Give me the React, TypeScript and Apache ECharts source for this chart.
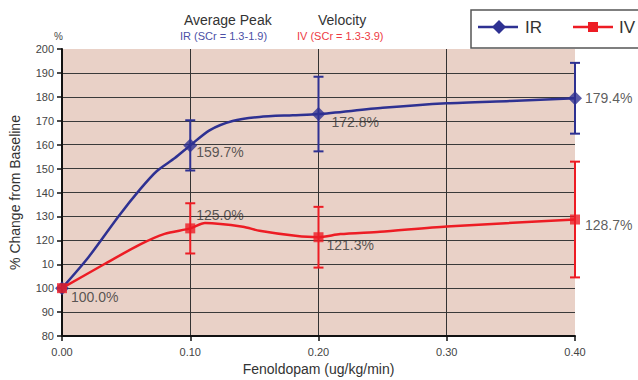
import React, { useEffect, useRef } from "react";
import * as echarts from "echarts";

// Smoothed curve points (dose in ug/kg/min, % of baseline)
const irCurveX = [0, 0.02, 0.044, 0.061, 0.074, 0.088, 0.1, 0.115, 0.133, 0.154, 0.18, 0.2, 0.25, 0.3, 0.35, 0.4];
const irCurveY = [100, 112.5, 130, 141.4, 149, 154.4, 159.7, 166, 169.9, 171.6, 172.3, 172.8, 175.4, 177.3, 178.3, 179.4];
const ivCurveX = [0, 0.0335, 0.061, 0.08, 0.1, 0.1115, 0.141, 0.154, 0.182, 0.2, 0.217, 0.248, 0.3, 0.4];
const ivCurveY = [100, 110.2, 118.3, 122.7, 125.0, 127.2, 125.7, 124.0, 121.9, 121.3, 122.6, 123.6, 125.8, 128.7];

// Measured points with error bars
const markerX = [0, 0.1, 0.2, 0.4];
const irMean = [100, 159.7, 172.8, 179.4];
const irErr = [0, 10.5, 15.6, 14.8];
const ivMean = [100, 125.0, 121.3, 128.7];
const ivErr = [0, 10.5, 12.7, 24.2];

const irLabels = ["", "159.7%", "172.8%", "179.4%"];
const ivLabels = ["100.0%", "125.0%", "121.3%", "128.7%"];
const irLabelOffsets = [[0, 0], [6, 7], [13, 8], [10, 0]];
const ivLabelOffsets = [[9, 9], [6, -13], [8, 8], [10, 5]];

const yTicks = [80, 90, 100, 110, 120, 130, 140, 150, 160, 170, 180, 190, 200];
const yTickLabels = ["80", "90", "100", "10", "120", "130", "140", "150", "160", "170", "180", "190", "200"];

const BLUE = "#2E3192";
const RED = "#ED1C24";
const FONT = "Liberation Sans, Arial, sans-serif";

export default function App() {
  const ref = useRef<HTMLDivElement>(null);
  useEffect(() => {
    if (!ref.current) return;
    const chart = echarts.init(ref.current, null, { renderer: "svg" });

    const errRender = (color: string) => (params: any, api: any) => {
      const x = api.value(0);
      const lo = api.value(1);
      const hi = api.value(2);
      if (hi - lo <= 0) return null;
      const top = api.coord([x, hi]);
      const bot = api.coord([x, lo]);
      const w = 5;
      const style = { stroke: color, lineWidth: 2 };
      return {
        type: "group",
        children: [
          { type: "line", shape: { x1: top[0], y1: top[1], x2: bot[0], y2: bot[1] }, style },
          { type: "line", shape: { x1: top[0] - w, y1: top[1], x2: top[0] + w, y2: top[1] }, style },
          { type: "line", shape: { x1: bot[0] - w, y1: bot[1], x2: bot[0] + w, y2: bot[1] }, style },
        ],
      };
    };

    const markerData = (means: number[], labels: string[], offs: number[][], size: number) =>
      markerX.map((x, i) => ({
        value: [x, means[i]],
        label: {
          show: labels[i] !== "",
          formatter: labels[i],
          position: [offs[i][0] + size / 2, offs[i][1] + size / 2],
          align: "left",
          verticalAlign: "middle",
          fontSize: 14,
          color: "#333",
          fontFamily: FONT,
        },
      }));

    chart.setOption({
      animation: false,
      grid: {
        left: 62,
        right: 63,
        top: 49,
        bottom: 44,
        show: true,
        backgroundColor: "#E9D1C7",
        borderWidth: 0,
        containLabel: false,
        outerBoundsMode: "none",
      },
      xAxis: {
        type: "value",
        min: 0,
        max: 0.4,
        interval: 0.1,
        name: "Fenoldopam (ug/kg/min)",
        nameLocation: "middle",
        nameGap: 24,
        nameTextStyle: { fontSize: 14, color: "#333", fontFamily: FONT },
        axisLine: { show: true, lineStyle: { color: "#111", width: 2 } },
        axisTick: { show: true, length: 5, lineStyle: { color: "#111", width: 1.5 } },
        axisLabel: {
          formatter: (v: number) => v.toFixed(2),
          fontSize: 11,
          color: "#444",
          margin: 10,
          fontFamily: FONT,
        },
        splitLine: { show: true, showMinLine: false, showMaxLine: false, lineStyle: { color: "#333", width: 1 } },
      },
      yAxis: {
        type: "value",
        min: 80,
        max: 200,
        interval: 10,
        name: "% Change from Baseline",
        nameLocation: "middle",
        nameGap: 40,
        nameTextStyle: { fontSize: 14, color: "#333", fontFamily: FONT },
        axisLine: { show: true, lineStyle: { color: "#111", width: 2 } },
        axisTick: { show: true, length: 5, lineStyle: { color: "#111", width: 1.5 } },
        axisLabel: {
          formatter: (v: number) => {
            const i = yTicks.indexOf(Math.round(v));
            return i >= 0 ? yTickLabels[i] : String(v);
          },
          fontSize: 11,
          color: "#444",
          margin: 8,
          fontFamily: FONT,
        },
        splitLine: { show: true, showMinLine: false, showMaxLine: false, lineStyle: { color: "#3a3a3a", width: 1 } },
      },
      graphic: [
        { type: "text", left: 184, top: 13, style: { text: "Average Peak", fill: "#333", font: `14px ${FONT}` } },
        { type: "text", left: 318, top: 13, style: { text: "Velocity", fill: "#333", font: `14px ${FONT}` } },
        { type: "text", left: 180, top: 30, style: { text: "IR (SCr = 1.3-1.9)", fill: "#4B4FA6", font: `11px ${FONT}` } },
        { type: "text", left: 297, top: 30, style: { text: "IV (SCr = 1.3-3.9)", fill: "#EE3A43", font: `11px ${FONT}` } },
        { type: "text", left: 54, top: 31, style: { text: "%", fill: "#444", font: `10px ${FONT}` } },
        { type: "rect", shape: { x: 471, y: 10, width: 180, height: 38 }, style: { fill: "#fff", stroke: "#555", lineWidth: 1.5 } },
        { type: "line", shape: { x1: 478, y1: 27, x2: 518, y2: 27 }, style: { stroke: BLUE, lineWidth: 2.5 } },
        { type: "polygon", shape: { points: [[499, 20], [506, 27], [499, 34], [492, 27]] }, style: { fill: BLUE } },
        { type: "text", x: 525, y: 27, style: { text: "IR", fill: "#333", font: `17px ${FONT}`, verticalAlign: "middle" } },
        { type: "line", shape: { x1: 573, y1: 27, x2: 613, y2: 27 }, style: { stroke: RED, lineWidth: 2.5 } },
        { type: "rect", shape: { x: 588, y: 22, width: 10, height: 10 }, style: { fill: RED } },
        { type: "text", x: 619, y: 27, style: { text: "IV", fill: "#333", font: `17px ${FONT}`, verticalAlign: "middle" } },
      ],
      series: [
        {
          type: "line",
          data: irCurveX.map((x, i) => [x, irCurveY[i]]),
          smooth: 0.25,
          showSymbol: false,
          lineStyle: { color: BLUE, width: 2.5 },
          silent: true,
          z: 2,
        },
        {
          type: "line",
          data: ivCurveX.map((x, i) => [x, ivCurveY[i]]),
          smooth: 0.25,
          showSymbol: false,
          lineStyle: { color: RED, width: 2.5 },
          silent: true,
          z: 2,
        },
        {
          type: "custom",
          renderItem: errRender(BLUE),
          data: markerX.map((x, i) => [x, irMean[i] - irErr[i], irMean[i] + irErr[i]]),
          encode: { x: 0, y: [1, 2] },
          clip: false,
          z: 3,
        },
        {
          type: "custom",
          renderItem: errRender(RED),
          data: markerX.map((x, i) => [x, ivMean[i] - ivErr[i], ivMean[i] + ivErr[i]]),
          encode: { x: 0, y: [1, 2] },
          clip: false,
          z: 3,
        },
        {
          type: "scatter",
          symbol: "diamond",
          symbolSize: 14,
          itemStyle: { color: BLUE },
          data: markerData(irMean, irLabels, irLabelOffsets, 14),
          z: 4,
        },
        {
          type: "scatter",
          symbol: "rect",
          symbolSize: 10,
          itemStyle: { color: RED },
          data: markerData(ivMean, ivLabels, ivLabelOffsets, 10),
          z: 5,
        },
      ],
    });
    return () => chart.dispose();
  }, []);
  return <div ref={ref} style={{ position: "absolute", left: 0, top: 0, width: 638, height: 380 }} />;
}
